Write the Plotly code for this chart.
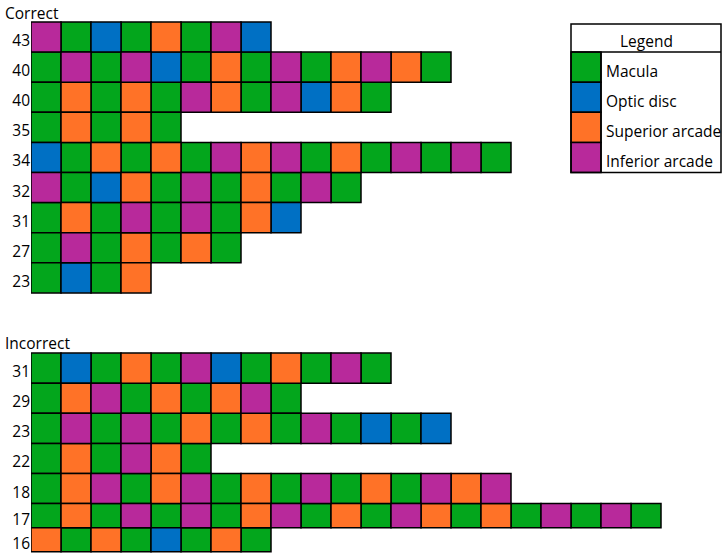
import plotly.graph_objects as go

# ---------------- data ----------------
categories = ["Macula", "Optic disc", "Superior arcade", "Inferior arcade"]
codes = ["M", "O", "S", "I"]
colors = ["#03A61C", "#0070C4", "#FF7227", "#B8299B"]

correct_labels = ["43", "40", "40", "35", "34", "32", "31", "27", "23"]
correct_seqs = [
    "IMOMSMIO",
    "MIMIOMSMIMSISM",
    "MSMSMISMIOSM",
    "MSMSM",
    "OMSMSMISIMSMIMIM",
    "IMOSMIMSMIM",
    "MSMIMIMSO",
    "MIMSMSM",
    "MOMS",
]

incorrect_labels = ["31", "29", "23", "22", "18", "17", "16"]
incorrect_seqs = [
    "MOMSMIOMSMIM",
    "MSIMSMSIM",
    "MIMIMSMSMIMOMO",
    "MSMISM",
    "MSIMSIMSMIMSMISI",
    "MSMIMIMSIMSMISMSMIMIM",
    "SMSMOMSM",
]

# ---------------- layout of rows (grid units) ----------------
W, H = 727, 557
L = 31              # left margin in px
CW = 30.0           # px per column unit
RH = 30.1           # px per row unit
TOP = 22            # px of row 0 top
LBL_SHIFT = 0.12    # labels sit slightly below row centre

rows = []  # (label, seq, top, height)
for i, (lab, s) in enumerate(zip(correct_labels, correct_seqs)):
    rows.append((lab, s, i, 1.0))
inc_start = 11
heights_inc = [1, 1, 1, 1, 1, 0.8, 0.8]
t = inc_start
for lab, s, h in zip(incorrect_labels, incorrect_seqs, heights_inc):
    rows.append((lab, s, t, h))
    t += h

fig = go.Figure()

for cat, code, col in zip(categories, codes, colors):
    ys, bases, ws = [], [], []
    for lab, s, top, h in rows:
        for j, c in enumerate(s):
            if c == code:
                ys.append(top + h / 2)
                bases.append(j)
                ws.append(h)
    fig.add_trace(go.Bar(
        orientation="h", y=ys, x=[1] * len(ys), base=bases, width=ws,
        marker=dict(color=col, line=dict(color="black", width=1.5)),
        name=cat, showlegend=False, hoverinfo="skip",
    ))

# legend swatches (grid column 18, rows 1..4)
leg_col = 18
leg_right = 23
for k, (cat, col) in enumerate(zip(categories, colors)):
    fig.add_trace(go.Bar(
        orientation="h", y=[1 + k + 0.5], x=[1], base=[leg_col], width=[1],
        marker=dict(color=col, line=dict(color="black", width=1.5)),
        showlegend=False, hoverinfo="skip",
    ))
    fig.add_annotation(x=leg_col + 1.1, y=1 + k + 0.5 + LBL_SHIFT, xref="x", yref="y",
                       text=cat, showarrow=False, xanchor="left", yanchor="middle",
                       font=dict(size=15.5, color="black", family="Open Sans"))

fig.add_annotation(x=(leg_col + leg_right) / 2, y=0.64, xref="x", yref="y",
                   text="Legend", showarrow=False, xanchor="center", yanchor="middle",
                   font=dict(size=15.5, color="black", family="Open Sans"))

shapes = [
    dict(type="rect", x0=leg_col, x1=leg_right, y0=0.07, y1=5, xref="x", yref="y",
         line=dict(color="black", width=1.5), layer="above"),
    dict(type="line", x0=leg_col, x1=leg_right, y0=1, y1=1, xref="x", yref="y",
         line=dict(color="black", width=1.5), layer="above"),
    dict(type="line", x0=leg_col + 1, x1=leg_col + 1, y0=1, y1=5, xref="x", yref="y",
         line=dict(color="black", width=1.5), layer="above"),
]

# section titles
for txt, ypx in [("Correct", 12.5), ("Incorrect", 342.5)]:
    fig.add_annotation(x=(3 - L) / (W - L), y=(ypx - TOP) / RH, xref="paper", yref="y",
                       text=txt, showarrow=False, xanchor="left", yanchor="middle",
                       font=dict(size=15.5, color="black", family="Open Sans"))

tickvals = [top + h / 2 + LBL_SHIFT for _, _, top, h in rows]
ticktext = [lab for lab, _, _, _ in rows]

fig.update_layout(
    width=W, height=H,
    margin=dict(l=L, r=0, t=0, b=0),
    barmode="overlay",
    plot_bgcolor="white", paper_bgcolor="white",
    shapes=shapes,
    xaxis=dict(range=[0, (W - L) / CW], showgrid=False, zeroline=False,
               showticklabels=False, showline=False, fixedrange=True),
    yaxis=dict(range=[(H - TOP) / RH, -TOP / RH], showgrid=False, zeroline=False,
               tickvals=tickvals, ticktext=ticktext, ticks="", showline=False,
               tickfont=dict(size=15.5, color="black", family="Open Sans"),
               ticklabelstandoff=0),
    font=dict(family="Open Sans"),
)

fig.write_html("out.html")
